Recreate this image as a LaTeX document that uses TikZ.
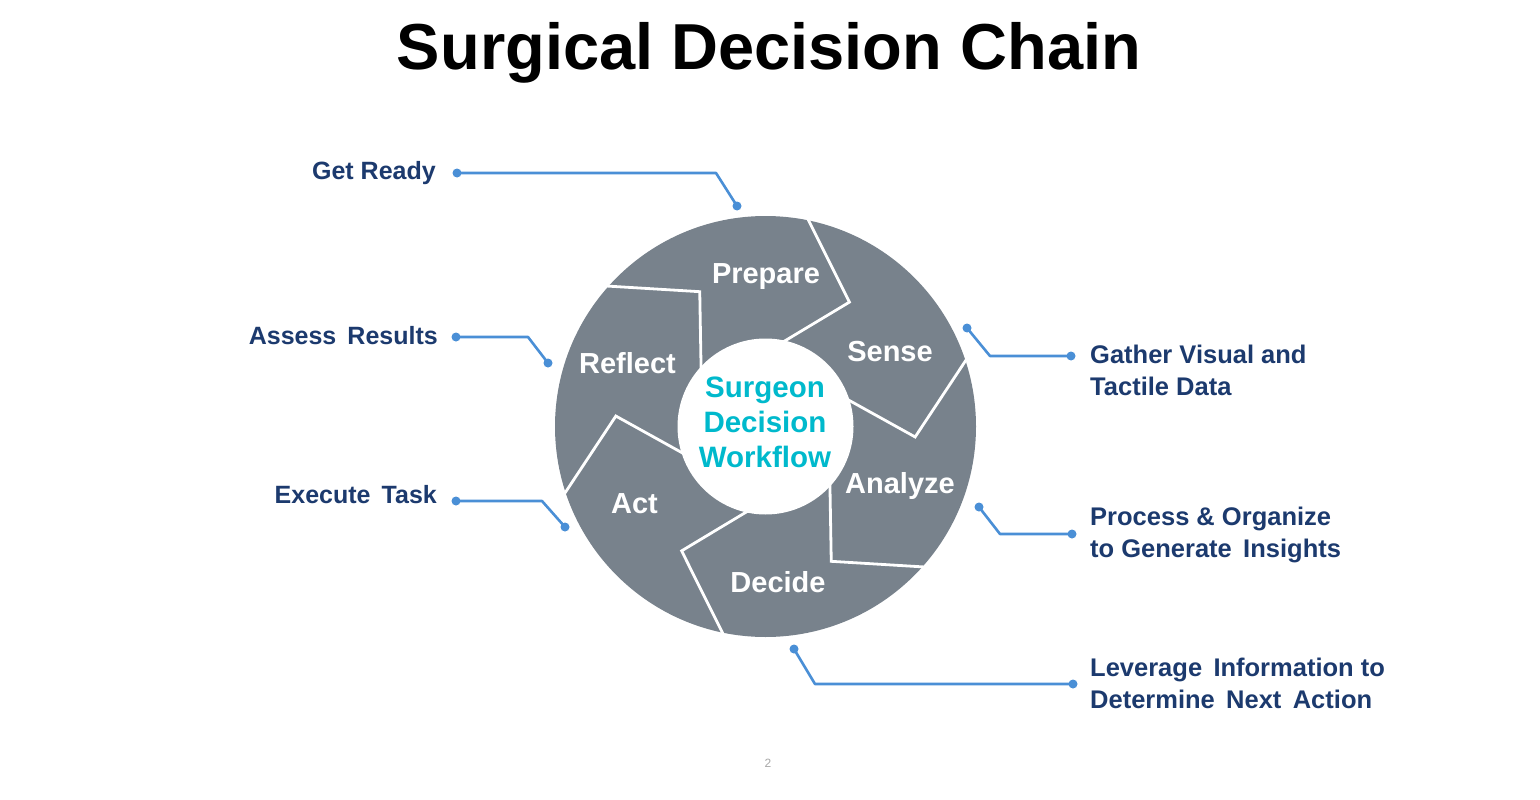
\documentclass[tikz,border=0pt]{standalone}
\usepackage{fontspec}
\setmainfont{Liberation Sans}
\definecolor{wheelgray}{HTML}{78828C}
\definecolor{navy}{HTML}{1C3A6E}
\definecolor{hubcyan}{HTML}{00B9CC}
\definecolor{connblue}{HTML}{4A8FD6}
\definecolor{pagegray}{HTML}{A8A8A8}
\begin{document}
\begin{tikzpicture}[x=1pt,y=-1pt,
  titlestyle/.style={font=\fontsize{65}{78}\selectfont\bfseries, text=black, inner sep=0pt, anchor=base},
  steplabel/.style={font=\fontsize{29}{35}\selectfont\bfseries, text=white, inner sep=0pt, anchor=base},
  hubtext/.style={font=\fontsize{29.5}{35}\selectfont\bfseries, text=hubcyan, inner sep=0pt, align=center, anchor=base},
  leftlabel/.style={font=\fontsize{25}{32}\selectfont\bfseries, text=navy, inner sep=0pt, anchor=base east},
  rightlabel/.style={font=\fontsize{25.5}{32}\selectfont\bfseries, text=navy, inner sep=0pt, align=left, anchor=base west},
  conn/.style={draw=connblue, line width=2.6pt, line join=round},
  divider/.style={draw=white, line width=2.8pt, line join=miter}
]
\useasboundingbox[fill=white] (0,0) rectangle (1540,800);

% title
\node[titlestyle] (title) at (769,70) {Surgical Decision Chain};

% wheel
\node[circle, fill=wheelgray, minimum size=421pt, inner sep=0pt] (wheel) at (765.5,426.5) {};
\begin{scope}[shift={(wheel.center)}]
  \foreach \t in {18.5,78.5,138.5,198.5,258.5,318.5}
    \draw[divider] (\t:212pt) -- (\t-22.5:150pt) -- (\t:86pt);
\end{scope}
\node[circle, fill=white, minimum size=176pt, inner sep=0pt] (hub) at (wheel.center) {};
% multi-line nodes: base anchor is the baseline of the last line
\node[hubtext] (hubtxt) at (765,467) {Surgeon\\Decision\\Workflow};

% step labels
\node[steplabel] (prepare) at (766,283) {Prepare};
\node[steplabel] (sense)   at (890,361) {Sense};
\node[steplabel] (analyze) at (900,493) {Analyze};
\node[steplabel] (decide)  at (778,592) {Decide};
\node[steplabel] (act)     at (634.5,513) {Act};
\node[steplabel] (reflect) at (627.5,373) {Reflect};

% outside labels
\node[leftlabel] (getready) at (436,179) {Get Ready};
\node[leftlabel] (assess)   at (438,344) {Assess\, Results};
\node[leftlabel] (execute)  at (437,503) {Execute\, Task};
\node[rightlabel] (gather)   at (1090,395) {Gather Visual and\\Tactile Data};
\node[rightlabel] (process)  at (1090,557) {Process \& Organize\\to Generate\, Insights};
\node[rightlabel] (leverage) at (1090,708) {Leverage\, Information to\\Determine\, Next\, Action};

% connector points
\coordinate (grA) at (457,173);  \coordinate (grB) at (716,173);  \coordinate (grC) at (737,206);
\coordinate (asA) at (456,337);  \coordinate (asB) at (528,337);  \coordinate (asC) at (548,363);
\coordinate (exA) at (456,501);  \coordinate (exB) at (542,501);  \coordinate (exC) at (565,527);
\coordinate (gaA) at (1071,356); \coordinate (gaB) at (990,356);  \coordinate (gaC) at (967,328);
\coordinate (prA) at (1072,534); \coordinate (prB) at (1000,534); \coordinate (prC) at (979,507);
\coordinate (leA) at (1073,684); \coordinate (leB) at (815,684);  \coordinate (leC) at (794,649);

\foreach \p in {gr,as,ex,ga,pr,le}{
  \draw[conn] (\p A) -- (\p B) -- (\p C);
  \fill[connblue] (\p A) circle[radius=4.5pt];
  \fill[connblue] (\p C) circle[radius=4.5pt];
}

% page number
\node[font=\fontsize{12}{14}\selectfont, text=pagegray, inner sep=0pt] (pagenum) at (768,763) {2};
\end{tikzpicture}
\end{document}
